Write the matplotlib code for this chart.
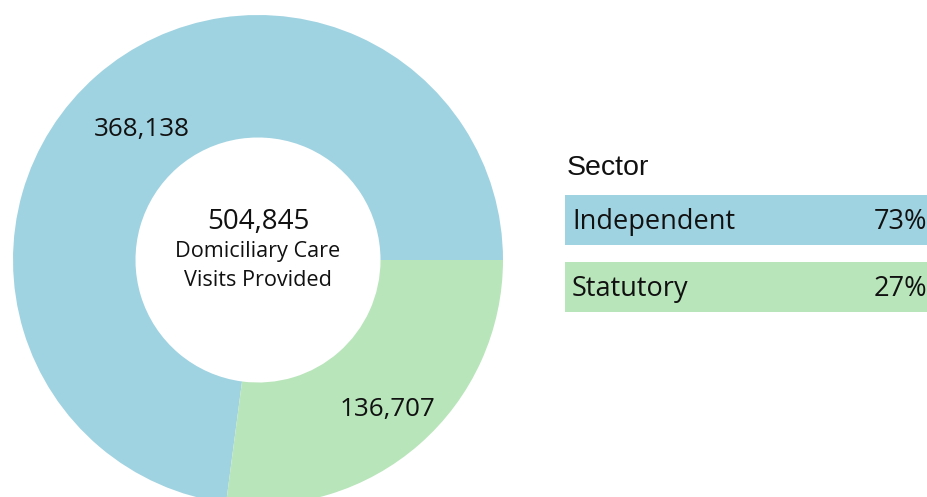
import numpy as np
import matplotlib.pyplot as plt
from matplotlib.patches import Rectangle

# Datos
sectors = ['Independent', 'Statutory']
visits = [368138, 136707]
colors = ['#A0D3E1', '#B8E5BA']
center_lines = ['Domiciliary Care', 'Visits Provided']

W, H = 928, 497
fig = plt.figure(figsize=(W / 100, H / 100), dpi=100)

# Donut: centro (258, 260) px, radio 245 px
cx, cy, r = 258, 260, 245
ax = fig.add_axes([(cx - r) / W, (H - cy - r) / H, 2 * r / W, 2 * r / H])

wedges, _ = ax.pie(visits, colors=colors, startangle=0, counterclock=True,
                   radius=1, wedgeprops=dict(width=0.5, linewidth=0))
ax.set_xlim(-1, 1)
ax.set_ylim(-1, 1)
ax.set_aspect('equal')
ax.axis('off')

font_c = 'Open Sans'
dy = -0.01  # pequeño ajuste vertical del texto
label_r = [0.72, 0.80]
for w, v, lr in zip(wedges, visits, label_r):
    ang = np.deg2rad((w.theta1 + w.theta2) / 2)
    ax.text(lr * np.cos(ang), lr * np.sin(ang) + dy, f'{v:,}', ha='center', va='center',
            fontsize=18.7, family=font_c, color='#111111')

total = sum(visits)
ax.text(0, 0.167 + dy, f'{total:,}', ha='center', va='center', fontsize=20,
        family=font_c, color='#111111')
for i, line in enumerate(center_lines):
    ax.text(0, 0.045 - i * 0.118 + dy, line, ha='center', va='center', fontsize=15.6,
            family=font_c, color='#111111')

# Leyenda de sectores
lax = fig.add_axes([0, 0, 1, 1])
lax.set_xlim(0, W)
lax.set_ylim(H, 0)
lax.axis('off')
lax.text(567, 168, 'Sector', ha='left', va='center', fontsize=20.5,
         family='Liberation Sans', color='#111111')
shares = [v / total for v in visits]
for i, (name, sh, col) in enumerate(zip(sectors, shares, colors)):
    top = 195 + i * 67
    lax.add_patch(Rectangle((565, top), 380, 50, facecolor=col, edgecolor='none'))
    lax.text(572, top + 27, name, ha='left', va='center', fontsize=19.5,
             family=font_c, color='#111111')
    lax.text(874, top + 27, f'{sh:.0%}', ha='left', va='center', fontsize=19.5,
             family=font_c, color='#111111')

fig.savefig('out.png', dpi=100)
